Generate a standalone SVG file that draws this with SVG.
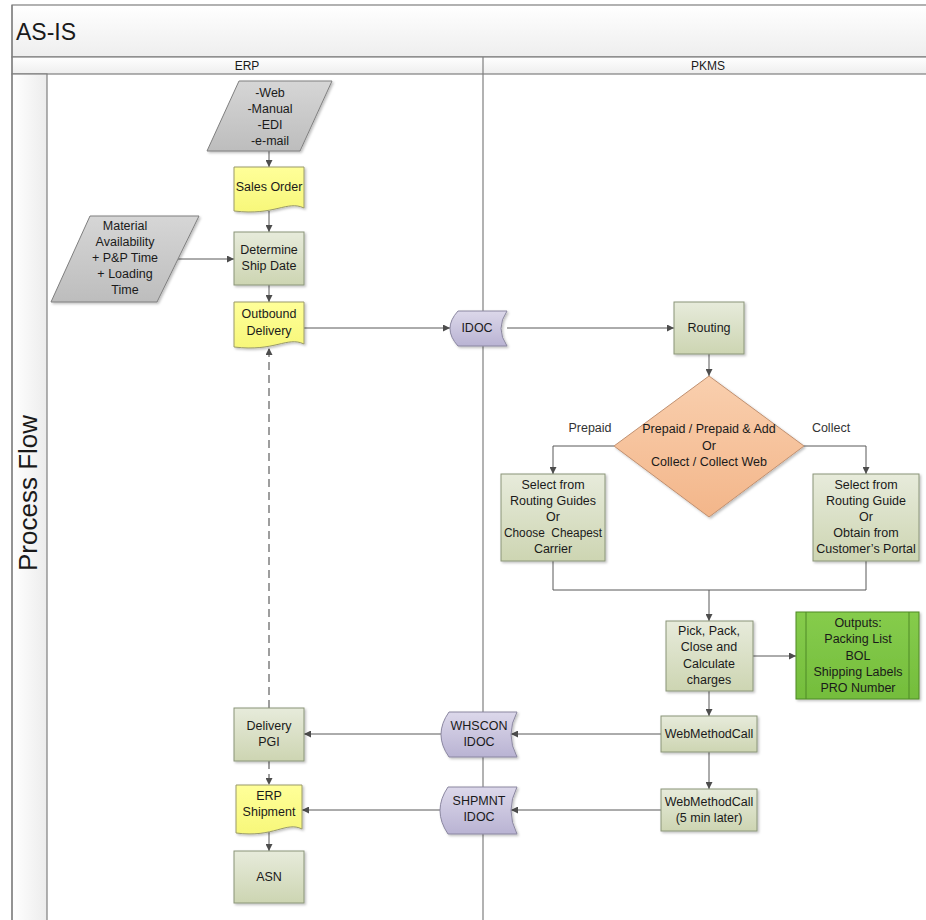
<svg xmlns="http://www.w3.org/2000/svg" width="926" height="920" viewBox="0 0 926 920">
  <defs>
    <linearGradient id="gBand" x1="0" y1="0" x2="0" y2="1">
      <stop offset="0" stop-color="#ffffff"/>
      <stop offset="1" stop-color="#eeeeee"/>
    </linearGradient>
    <linearGradient id="gSide" x1="0" y1="0" x2="1" y2="0">
      <stop offset="0" stop-color="#ffffff"/>
      <stop offset="1" stop-color="#ececec"/>
    </linearGradient>
    <linearGradient id="gProc" x1="0" y1="0" x2="0" y2="1">
      <stop offset="0" stop-color="#e7ebdb"/>
      <stop offset="1" stop-color="#cdd5b2"/>
    </linearGradient>
    <linearGradient id="gDoc" x1="0" y1="0" x2="0" y2="1">
      <stop offset="0" stop-color="#ffff99"/>
      <stop offset="1" stop-color="#f7f77a"/>
    </linearGradient>
    <linearGradient id="gData" x1="0" y1="0" x2="0" y2="1">
      <stop offset="0" stop-color="#d6d6d6"/>
      <stop offset="1" stop-color="#bdbdbd"/>
    </linearGradient>
    <linearGradient id="gIdoc" x1="0" y1="0" x2="0" y2="1">
      <stop offset="0" stop-color="#dcd8ea"/>
      <stop offset="1" stop-color="#b9b3d3"/>
    </linearGradient>
    <linearGradient id="gDec" x1="0" y1="0" x2="0" y2="1">
      <stop offset="0" stop-color="#f9cfae"/>
      <stop offset="1" stop-color="#f3b68a"/>
    </linearGradient>
    <linearGradient id="gOut" x1="0" y1="0" x2="0" y2="1">
      <stop offset="0" stop-color="#86cc4c"/>
      <stop offset="1" stop-color="#74bd3c"/>
    </linearGradient>
    <filter id="sh" x="-10%" y="-10%" width="130%" height="130%">
      <feDropShadow dx="1.5" dy="1.5" stdDeviation="1" flood-color="#000" flood-opacity="0.25"/>
    </filter>
    <marker id="ah" viewBox="0 0 10 10" refX="10" refY="5" markerWidth="7" markerHeight="7" markerUnits="userSpaceOnUse" orient="auto">
      <path d="M0,0 L10,5 L0,10 Z" fill="#4d4d4d"/>
    </marker>
  </defs>
  <style>
    text { font-family: "Liberation Sans", Arial, sans-serif; fill: #1a1a1a; }
    .lbl { font-size: 12.5px; text-anchor: middle; }
    .side { font-size: 12.5px; fill: #333333; }
    .frame { stroke: #7f7f7f; stroke-width: 1.2; }
    .proc { fill: url(#gProc); stroke: #8a9478; stroke-width: 1; filter: url(#sh); }
    .doc { fill: url(#gDoc); stroke: #9a9a6a; stroke-width: 1; filter: url(#sh); }
    .data { fill: url(#gData); stroke: #7f7f7f; stroke-width: 1; filter: url(#sh); }
    .idoc { fill: url(#gIdoc); stroke: #8a86a0; stroke-width: 1; filter: url(#sh); }
    .dec { fill: url(#gDec); stroke: #c09070; stroke-width: 1; filter: url(#sh); }
    .outp { fill: url(#gOut); stroke: #4e8a26; stroke-width: 1; filter: url(#sh); }
    .c { fill: none; stroke: #595959; stroke-width: 1; }
    .arr { marker-end: url(#ah); }
    .dash { stroke: #7f7f7f; stroke-width: 1.5; stroke-dasharray: 8 5; }
  </style>

  <!-- swimlane frame -->
  <g id="pool">
    <rect x="12" y="5" width="930" height="52" fill="url(#gBand)" class="frame"/>
    <text x="16" y="40" font-size="23">AS-IS</text>
    <rect x="12" y="57" width="930" height="17" fill="url(#gBand)" class="frame"/>
    <text x="247" y="70" font-size="12" text-anchor="middle">ERP</text>
    <text x="708" y="70" font-size="12" text-anchor="middle">PKMS</text>
    <rect x="12" y="74" width="35" height="860" fill="url(#gSide)" class="frame"/>
    <line x1="12" y1="5" x2="12" y2="920" class="frame"/>
    <line x1="483" y1="57" x2="483" y2="920" class="frame"/>
    <text transform="translate(37,493) rotate(-90)" font-size="26" text-anchor="middle">Process Flow</text>
  </g>

  <!-- connectors -->
  <g id="connectors">
    <line x1="269" y1="151" x2="269" y2="167" class="c arr"/>
    <line x1="269" y1="211" x2="269" y2="232" class="c arr"/>
    <line x1="178" y1="259" x2="234" y2="259" class="c arr"/>
    <line x1="269" y1="285" x2="269" y2="302" class="c arr"/>
    <line x1="304" y1="328" x2="450" y2="328" class="c arr"/>
    <line x1="507" y1="328" x2="674" y2="328" class="c arr"/>
    <line x1="709" y1="354" x2="709" y2="376" class="c arr"/>
    <polyline points="614,446 553,446 553,474" class="c arr"/>
    <polyline points="804,446 866,446 866,474" class="c arr"/>
    <polyline points="553,561 553,590 866,590 866,561" class="c"/>
    <line x1="709" y1="590" x2="709" y2="621" class="c arr"/>
    <line x1="753" y1="656" x2="796" y2="656" class="c arr"/>
    <line x1="709" y1="691" x2="709" y2="716" class="c arr"/>
    <line x1="709" y1="752" x2="709" y2="789" class="c arr"/>
    <line x1="661" y1="734" x2="511" y2="734" class="c arr"/>
    <line x1="441" y1="734" x2="304" y2="734" class="c arr"/>
    <line x1="661" y1="810" x2="511" y2="810" class="c arr"/>
    <line x1="440" y1="810" x2="302" y2="810" class="c arr"/>
    <line x1="269" y1="708" x2="269" y2="348" class="c arr dash"/>
    <line x1="269" y1="761" x2="269" y2="785" class="c arr dash"/>
    <line x1="269" y1="832" x2="269" y2="851" class="c arr"/>
    <text x="590" y="432" class="side" text-anchor="middle">Prepaid</text>
    <text x="831" y="432" class="side" text-anchor="middle">Collect</text>
  </g>

  <!-- ERP lane -->
  <g id="channels">
    <polygon points="239,81 332,81 300,151 207,151" class="data"/>
    <text class="lbl" x="270" y="97">-Web</text>
    <text class="lbl" x="270" y="113">-Manual</text>
    <text class="lbl" x="270" y="129">-EDI</text>
    <text class="lbl" x="270" y="145">-e-mail</text>
  </g>
  <g id="sales-order">
    <path d="M234,167 H304 V208 C287,200 275,216 234,211 Z" class="doc"/>
    <text class="lbl" x="269" y="191">Sales Order</text>
  </g>
  <g id="material-availability">
    <polygon points="90,216 199,216 157,302 51,302" class="data"/>
    <text class="lbl" x="125" y="230">Material</text>
    <text class="lbl" x="125" y="246">Availability</text>
    <text class="lbl" x="125" y="262">+ P&amp;P Time</text>
    <text class="lbl" x="125" y="278">+ Loading</text>
    <text class="lbl" x="125" y="294">Time</text>
  </g>
  <g id="determine-ship-date">
    <rect x="234" y="232" width="70" height="53" class="proc"/>
    <text class="lbl" x="269" y="254">Determine</text>
    <text class="lbl" x="269" y="270">Ship Date</text>
  </g>
  <g id="outbound-delivery">
    <path d="M234,302 H304 V344 C287,336 275,352 234,347 Z" class="doc"/>
    <text class="lbl" x="269" y="318">Outbound</text>
    <text class="lbl" x="269" y="335">Delivery</text>
  </g>
  <g id="delivery-pgi">
    <rect x="234" y="708" width="70" height="53" class="proc"/>
    <text class="lbl" x="269" y="730">Delivery</text>
    <text class="lbl" x="269" y="746">PGI</text>
  </g>
  <g id="erp-shipment">
    <path d="M236,785 H302 V829 C286,821 274,838 236,833 Z" class="doc"/>
    <text class="lbl" x="269" y="800">ERP</text>
    <text class="lbl" x="269" y="816">Shipment</text>
  </g>
  <g id="asn">
    <rect x="234" y="851" width="70" height="52" class="proc"/>
    <text class="lbl" x="269" y="881">ASN</text>
  </g>

  <!-- interface documents -->
  <g id="idoc">
    <path d="M458,311 H507 Q495,328.5 507,346 H458 Q442,328.5 458,311 Z" class="idoc"/>
    <text class="lbl" x="477" y="332">IDOC</text>
  </g>
  <g id="whscon-idoc">
    <path d="M449,712 H517 Q505,734.5 517,757 H449 Q433,734.5 449,712 Z" class="idoc"/>
    <text class="lbl" x="479" y="730">WHSCON</text>
    <text class="lbl" x="479" y="746">IDOC</text>
  </g>
  <g id="shpmnt-idoc">
    <path d="M448,787 H517 Q505,810.5 517,834 H448 Q432,810.5 448,787 Z" class="idoc"/>
    <text class="lbl" x="479" y="805">SHPMNT</text>
    <text class="lbl" x="479" y="821">IDOC</text>
  </g>

  <!-- PKMS lane -->
  <g id="routing">
    <rect x="674" y="302" width="70" height="52" class="proc"/>
    <text class="lbl" x="709" y="332">Routing</text>
  </g>
  <g id="freight-terms">
    <polygon points="709,376 804,446 709,517 614,446" class="dec"/>
    <text class="lbl" x="709" y="433">Prepaid / Prepaid &amp; Add</text>
    <text class="lbl" x="709" y="450">Or</text>
    <text class="lbl" x="709" y="466">Collect / Collect Web</text>
  </g>
  <g id="prepaid-carrier">
    <rect x="501" y="474" width="104" height="87" class="proc"/>
    <text class="lbl" x="553" y="489">Select from</text>
    <text class="lbl" x="553" y="505">Routing Guides</text>
    <text class="lbl" x="553" y="521">Or</text>
    <text class="lbl" x="553" y="537" xml:space="preserve" textLength="98" lengthAdjust="spacingAndGlyphs">Choose  Cheapest</text>
    <text class="lbl" x="553" y="553">Carrier</text>
  </g>
  <g id="collect-carrier">
    <rect x="813" y="474" width="106" height="87" class="proc"/>
    <text class="lbl" x="866" y="489">Select from</text>
    <text class="lbl" x="866" y="505">Routing Guide</text>
    <text class="lbl" x="866" y="521">Or</text>
    <text class="lbl" x="866" y="537">Obtain from</text>
    <text class="lbl" x="866" y="553">Customer’s Portal</text>
  </g>
  <g id="pick-pack">
    <rect x="666" y="621" width="87" height="70" class="proc"/>
    <text class="lbl" x="709" y="635">Pick, Pack,</text>
    <text class="lbl" x="709" y="651">Close and</text>
    <text class="lbl" x="709" y="668">Calculate</text>
    <text class="lbl" x="709" y="684">charges</text>
  </g>
  <g id="outputs">
    <rect x="796" y="612" width="123" height="87" class="outp"/>
    <line x1="806" y1="612" x2="806" y2="699" stroke="#4e8a26"/>
    <line x1="909" y1="612" x2="909" y2="699" stroke="#4e8a26"/>
    <text class="lbl" x="858" y="627">Outputs:</text>
    <text class="lbl" x="858" y="643">Packing List</text>
    <text class="lbl" x="858" y="660">BOL</text>
    <text class="lbl" x="858" y="676">Shipping Labels</text>
    <text class="lbl" x="858" y="692">PRO Number</text>
  </g>
  <g id="webmethodcall">
    <rect x="661" y="716" width="96" height="36" class="proc"/>
    <text class="lbl" x="709" y="738">WebMethodCall</text>
  </g>
  <g id="webmethodcall-later">
    <rect x="661" y="789" width="96" height="42" class="proc"/>
    <text class="lbl" x="709" y="806">WebMethodCall</text>
    <text class="lbl" x="709" y="822">(5 min later)</text>
  </g>
</svg>
